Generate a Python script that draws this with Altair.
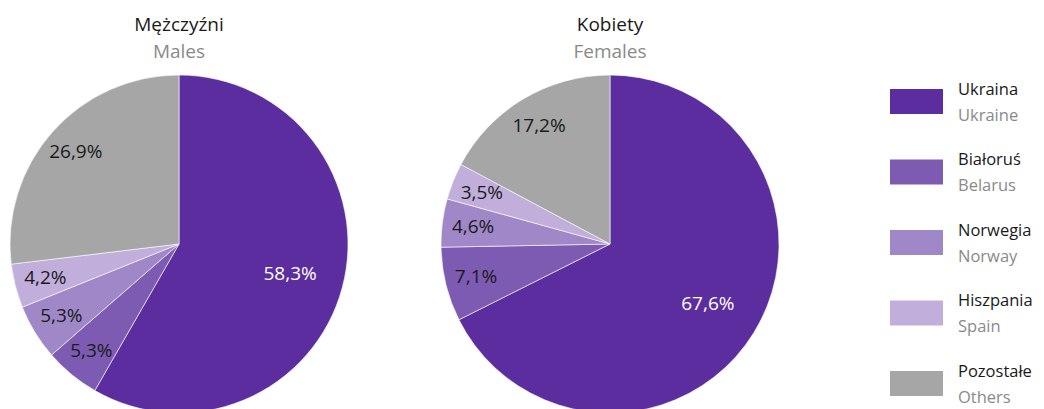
import altair as alt
import pandas as pd

countries_pl = ["Ukraina", "Białoruś", "Norwegia", "Hiszpania", "Pozostałe"]
countries_en = ["Ukraine", "Belarus", "Norway", "Spain", "Others"]
males = [58.3, 5.3, 5.3, 4.2, 26.9]
females = [67.6, 7.1, 4.6, 3.5, 17.2]
groups = ["M", "K"]
titles_pl = ["Mężczyźni", "Kobiety"]
titles_en = ["Males", "Females"]
colors = ["#5c2d9e", "#7e5bb3", "#a088c8", "#c1aedb", "#a5a6a5"]

FONT = "Open Sans"
BLACK = "#1a1a1a"
GREY = "#8a8a8a"

rows = []
for g, vals in zip(groups, [males, females]):
    for i, (c, v) in enumerate(zip(countries_pl, vals)):
        rows.append({"sex": g, "country": c, "idx": i, "value": v,
                     "label": f"{v:.1f}%".replace(".", ",")})
df = pd.DataFrame(rows)

color_scale = alt.Scale(domain=countries_pl, range=colors)

CY = 236
R = 169


def pie(sex, cx, title_pl, title_en):
    base = alt.Chart(df).transform_filter(alt.datum.sex == sex).encode(
        theta=alt.Theta("value:Q", stack=True),
        order=alt.Order("idx:Q"),
        x=alt.value(cx),
        y=alt.value(CY),
    )
    arcs = base.mark_arc(radius=R, stroke="white", strokeWidth=0.6).encode(
        color=alt.Color("country:N", scale=color_scale, legend=None)
    )
    big = base.mark_text(font=FONT, fontSize=19, radius=115, color="white").encode(
        text=alt.condition("datum.value > 50", alt.Text("label:N"), alt.value("")),
        detail="country:N",
    )
    small = base.mark_text(font=FONT, fontSize=19, radius=138, color=BLACK).encode(
        text=alt.condition("datum.value > 50", alt.value(""), alt.Text("label:N")),
        detail="country:N",
    )
    tdf = pd.DataFrame({"pl": [title_pl], "en": [title_en]})
    t1 = alt.Chart(tdf).mark_text(font=FONT, fontSize=19, color=BLACK, baseline="alphabetic").encode(
        text="pl:N", x=alt.value(cx), y=alt.value(23))
    t2 = alt.Chart(tdf).mark_text(font=FONT, fontSize=19, color=GREY, baseline="alphabetic").encode(
        text="en:N", x=alt.value(cx), y=alt.value(50))
    return [arcs, big, small, t1, t2]


leg = pd.DataFrame({"country": countries_pl, "en": countries_en})
yenc = alt.Y("country:N", sort=countries_pl, axis=None,
             scale=alt.Scale(type="point", range=[93.5, 375.5], padding=0))
swatch = alt.Chart(leg).mark_rect(height=25).encode(
    y=yenc, x=alt.value(882), x2=alt.value(935),
    color=alt.Color("country:N", scale=color_scale, legend=None))
leg_pl = alt.Chart(leg).mark_text(font=FONT, fontSize=16.5, color=BLACK, align="left",
                                  baseline="alphabetic", dy=-7).encode(
    y=yenc, x=alt.value(950), text="country:N")
leg_en = alt.Chart(leg).mark_text(font=FONT, fontSize=16.5, color=GREY, align="left",
                                  baseline="alphabetic", dy=19).encode(
    y=yenc, x=alt.value(950), text="en:N")

layers = pie("M", 171, titles_pl[0], titles_en[0]) + pie("K", 602, titles_pl[1], titles_en[1]) + [swatch, leg_pl, leg_en]

chart = alt.layer(*layers).properties(
    width=1028, height=401, padding=0,
    autosize=alt.AutoSizeParams(type="none"),
).configure_view(stroke=None)

chart.save("out.html", embed_options={"renderer": "svg", "actions": False})
